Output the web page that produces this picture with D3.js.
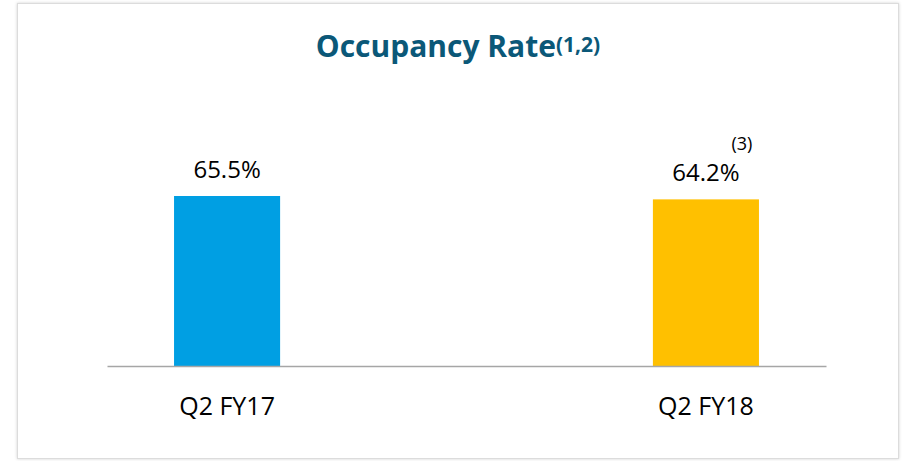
<!DOCTYPE html>
<html><head><meta charset="utf-8">
<script src="https://cdn.jsdelivr.net/npm/d3@7"></script>
<style>body{margin:0;background:#fff}</style>
</head><body>
<svg id="c" width="903" height="461"></svg>
<script>
const categories = ["Q2 FY17", "Q2 FY18"];
const values = [65.5, 64.2];
const valueLabels = ["65.5%", "64.2%"];
const notes = ["", "(3)"];
const colors = ["#009FE3", "#FFC000"];

const svg = d3.select("#c");
const font = "'Open Sans', 'Noto Sans', sans-serif";

// frame with soft shadow
const defs = svg.append("defs");
const f = defs.append("filter").attr("id","sh").attr("x","-5%").attr("y","-5%").attr("width","110%").attr("height","110%");
f.append("feDropShadow").attr("dx",0).attr("dy",0).attr("stdDeviation",1.5).attr("flood-color","#000").attr("flood-opacity",0.18);
svg.append("rect").attr("x",17.5).attr("y",3.5).attr("width",881).attr("height",455)
  .attr("fill","#fff").attr("stroke","#dcdcdc").attr("stroke-width",1).attr("filter","url(#sh)");

const x = d3.scaleBand().domain(categories).range([107, 826]).paddingInner(0.7785).paddingOuter(0.14);
const y = d3.scaleLinear().domain([0, 65.5]).range([366, 196]);

// title
const t = svg.append("text").attr("x", 458).attr("y", 57).attr("text-anchor","middle")
  .attr("font-family", font).attr("font-weight", 700).attr("font-size", 30).attr("fill", "#0B5878");
t.append("tspan").text("Occupancy Rate");
t.append("tspan").attr("font-size", 21).attr("dy", -5).text("(1,2)");

// bars
svg.selectAll("rect.bar").data(values).join("rect").attr("class","bar")
  .attr("x", (d,i) => x(categories[i])).attr("width", x.bandwidth())
  .attr("y", d => y(d)).attr("height", d => y(0) - y(d))
  .attr("fill", (d,i) => colors[i]);

// axis baseline
const axis = svg.append("g").attr("transform", `translate(0,${y(0)})`)
  .call(d3.axisBottom(x).tickSize(0).tickPadding(31));
axis.select(".domain").attr("stroke", "#a6a6a6").attr("stroke-width", 1.5);
axis.selectAll("text").attr("font-family", font).attr("font-size", 25).attr("fill", "#000");

// value labels
svg.selectAll("text.val").data(values).join("text").attr("class","val")
  .attr("x", (d,i) => x(categories[i]) + x.bandwidth()/2)
  .attr("y", d => y(d) - 18.5).attr("text-anchor","middle")
  .attr("font-family", font).attr("font-size", 24).attr("fill", "#000")
  .text((d,i) => valueLabels[i]);

// footnote markers
svg.selectAll("text.note").data(values).join("text").attr("class","note")
  .attr("x", (d,i) => x(categories[i]) + x.bandwidth()/2 + 36)
  .attr("y", d => y(d) - 49).attr("text-anchor","middle")
  .attr("font-family", font).attr("font-size", 18).attr("fill", "#000")
  .text((d,i) => notes[i]);
</script>
</body></html>
